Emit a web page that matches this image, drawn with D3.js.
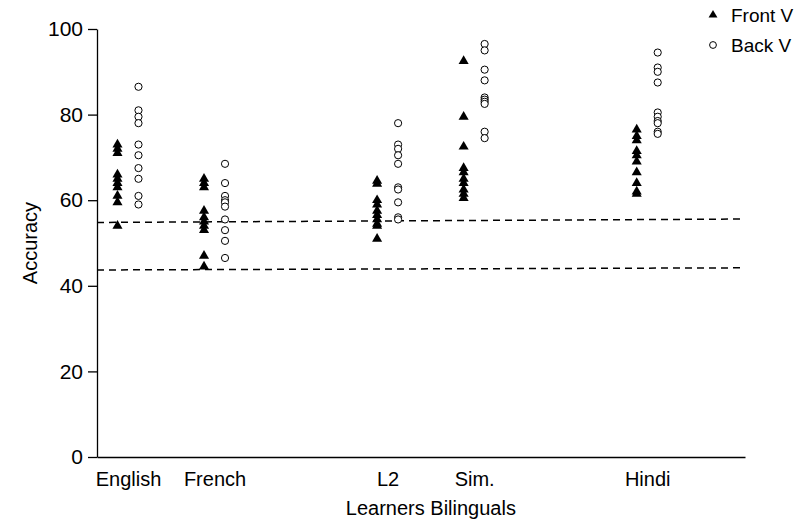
<!DOCTYPE html>
<html>
<head>
<meta charset="utf-8">
<script src="https://cdn.jsdelivr.net/npm/d3@7"></script>
<style>
  body { margin: 0; background: #fff; }
  svg text { font-family: "Liberation Sans", Arial, sans-serif; fill: #000; }
</style>
</head>
<body>
<div id="chart"></div>
<script>
// Accuracy by group, front vs back vowels

const categories = ['English', 'French', 'L2', 'Sim.', 'Hindi'];
// slot of each group along the x axis (gaps between learner / bilingual groups)
const slots = [1, 2, 4, 5, 7];

const frontV = [
    [73, 72, 71, 66, 65, 64, 63, 61, 59.5, 54],
    [65, 64, 63, 57.5, 56, 55, 54, 53, 47, 44.5],
    [64.5, 63.8, 60, 59, 57.5, 56.5, 55.5, 54.5, 54, 51],
    [92.5, 79.5, 72.5, 67.5, 66.5, 65, 64, 62.5, 61.5, 60.5],
    [76.5, 75, 74, 71.5, 70.5, 69, 66.5, 64, 62, 61.5]
];
const backV = [
    [86.5, 81, 79.5, 78, 73, 70.5, 67.5, 65, 61, 59],
    [68.5, 64, 61, 60, 59.5, 58.5, 55.5, 53, 50.5, 46.5],
    [78, 73, 72, 70.5, 68.5, 63, 62.5, 59.5, 56, 55.5],
    [96.5, 95, 90.5, 88, 84, 83.5, 83, 82.5, 76, 74.5],
    [94.5, 91, 90, 87.5, 80.5, 79.5, 78.5, 78, 76, 75.5]
];
// dashed reference lines: value at left end, value at right end
const refLines = [[54.8, 55.6], [43.7, 44.2]];
const yTicks = [0, 20, 40, 60, 80, 100];
const seriesNames = ['Front V', 'Back V'];

function draw() {
    const width = 798, height = 523;
    const svg = d3.select('#chart').append('svg')
        .attr('width', width)
        .attr('height', height);

    const x = d3.scaleLinear().domain([0.642, 8.13]).range([97, 745]);
    const y = d3.scaleLinear().domain([0, 100]).range([457, 29]);
    const off = 10.5;

    // y axis
    const yAxis = svg.append('g')
        .attr('transform', `translate(${x.range()[0]},0)`)
        .call(d3.axisLeft(y).tickValues(yTicks).tickSizeInner(9).tickSizeOuter(0).tickPadding(5));
    yAxis.selectAll('text').attr('font-size', 21);
    yAxis.selectAll('line, path').attr('stroke', '#000').attr('stroke-width', 1.3);

    // x axis (labels only, no ticks)
    const xAxis = svg.append('g')
        .attr('transform', `translate(0,${y(0)})`)
        .call(d3.axisBottom(x).tickValues(slots)
            .tickFormat((d, i) => categories[i])
            .tickSizeInner(0).tickSizeOuter(0).tickPadding(15));
    xAxis.selectAll('text').attr('font-size', 20);
    xAxis.selectAll('path').attr('stroke', '#000').attr('stroke-width', 1.3);

    // dashed reference lines
    svg.selectAll('.ref')
        .data(refLines)
        .enter()
        .append('line')
        .attr('x1', x.range()[0])
        .attr('x2', x.range()[1])
        .attr('y1', d => y(d[0]))
        .attr('y2', d => y(d[1]))
        .attr('stroke', '#000')
        .attr('stroke-width', 1.5)
        .attr('stroke-dasharray', '7,5');

    const tri = d3.symbol().type(d3.symbolTriangle).size(44);

    // front vowels: filled triangles, back vowels: open circles
    categories.forEach((c, i) => {
        svg.append('g').selectAll('path')
            .data(frontV[i])
            .enter()
            .append('path')
            .attr('d', tri)
            .attr('transform', d => `translate(${x(slots[i]) - off},${y(d)})`)
            .attr('fill', '#000');

        svg.append('g').selectAll('circle')
            .data(backV[i])
            .enter()
            .append('circle')
            .attr('cx', x(slots[i]) + off)
            .attr('cy', d => y(d))
            .attr('r', 3.6)
            .attr('fill', '#fff')
            .attr('stroke', '#000')
            .attr('stroke-width', 1);
    });

    // axis titles
    svg.append('text')
        .attr('x', x(4.5))
        .attr('y', 515)
        .attr('text-anchor', 'middle')
        .attr('font-size', 20)
        .text('Learners Bilinguals');

    svg.append('text')
        .attr('transform', `translate(37,${y(50)}) rotate(-90)`)
        .attr('text-anchor', 'middle')
        .attr('font-size', 20)
        .text('Accuracy');

    // legend
    const legend = svg.append('g').attr('transform', 'translate(713,0)');
    const legTri = d3.symbol().type(d3.symbolTriangle).size(34);
    seriesNames.forEach((name, i) => {
        const yy = 15 + i * 30;
        if (i === 0) {
            legend.append('path').attr('d', legTri).attr('transform', `translate(0,${yy})`).attr('fill', '#000');
        } else {
            legend.append('circle').attr('cx', 0).attr('cy', yy).attr('r', 3.4)
                .attr('fill', '#fff').attr('stroke', '#000');
        }
        legend.append('text')
            .attr('x', 18)
            .attr('y', yy)
            .attr('dy', '0.35em')
            .attr('font-size', 19)
            .text(name);
    });
}

draw();
</script>
</body>
</html>
